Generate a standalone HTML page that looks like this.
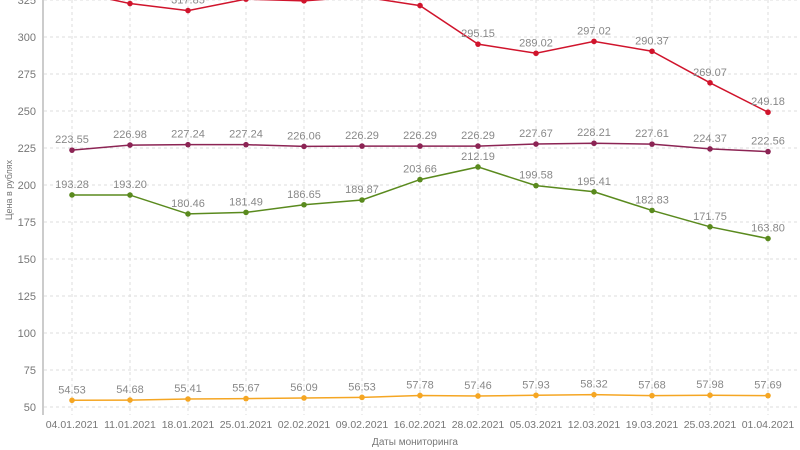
<!DOCTYPE html>
<html><head><meta charset="utf-8"><style>
html,body{margin:0;padding:0;background:#fff;width:800px;height:450px;overflow:hidden}
svg text{font-family:"Liberation Sans",sans-serif}
</style></head><body>
<svg id="c" width="800" height="450" xmlns="http://www.w3.org/2000/svg">
<text x="12" y="190" font-size="9" fill="#777" text-anchor="middle" transform="rotate(-90 12 190)">Цена в рублях</text>
<text x="415" y="445" font-size="10" fill="#777" text-anchor="middle">Даты мониторинга</text>
</svg>
<script>
var s=document.getElementById('c'),ns='http://www.w3.org/2000/svg';
function el(t,a,txt){var e=document.createElementNS(ns,t);for(var k in a)e.setAttribute(k,a[k]);if(txt!=null)e.textContent=txt;s.appendChild(e);return e;}
function Y(v){return 407-(v-50)*1.48;}
var X=[];for(var i=0;i<13;i++)X.push(72+58*i);
var dates=["04.01.2021","11.01.2021","18.01.2021","25.01.2021","02.02.2021","09.02.2021","16.02.2021","28.02.2021","05.03.2021","12.03.2021","19.03.2021","25.03.2021","01.04.2021"];
for(var v=50;v<=325;v+=25){el('line',{x1:44,x2:800,y1:Y(v),y2:Y(v),stroke:'#ddd','stroke-dasharray':'3,3'});
el('text',{x:36,y:Y(v)+4,'font-size':11,fill:'#777','text-anchor':'end'},v);}
X.forEach(function(x,i){el('line',{x1:x,x2:x,y1:0,y2:415,stroke:'#ddd','stroke-dasharray':'3,3'});
el('text',{x:x,y:428,'font-size':10.5,fill:'#777','text-anchor':'middle'},dates[i]);});
el('line',{x1:43,x2:43,y1:0,y2:415,stroke:'#ccc','stroke-width':2});
var series=[
{c:'#d0142c',d:[331,322.6,317.85,325.6,324.45,327.2,321.23,295.15,289.02,297.02,290.37,269.07,249.18]},
{c:'#8c2454',d:[223.55,226.98,227.24,227.24,226.06,226.29,226.29,226.29,227.67,228.21,227.61,224.37,222.56]},
{c:'#5a8a1e',d:[193.28,193.20,180.46,181.49,186.65,189.87,203.66,212.19,199.58,195.41,182.83,171.75,163.80]},
{c:'#f5a623',d:[54.53,54.68,55.41,55.67,56.09,56.53,57.78,57.46,57.93,58.32,57.68,57.98,57.69]}];
series.forEach(function(S){var p=S.d.map(function(v,i){return X[i]+','+Y(v)}).join(' ');
el('polyline',{points:p,fill:'none',stroke:S.c,'stroke-width':1.5});
S.d.forEach(function(v,i){el('circle',{cx:X[i],cy:Y(v),r:2.8,fill:S.c});
el('text',{x:X[i],y:Y(v)-7,'font-size':11,fill:'#888','text-anchor':'middle'},v.toFixed(2));});});
</script>
</body></html>
